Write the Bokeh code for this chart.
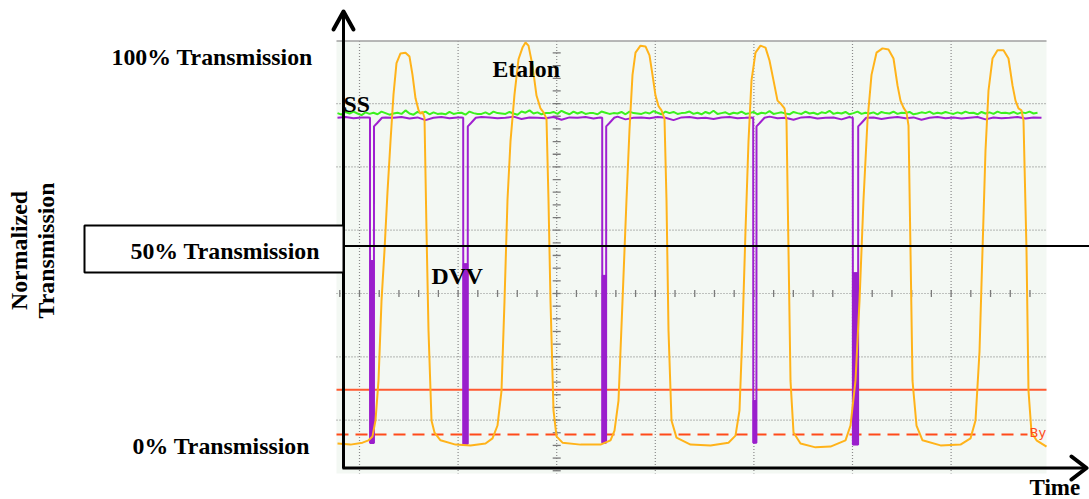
from math import pi
from bokeh.plotting import figure
from bokeh.models import Range1d, Label
from bokeh.embed import file_html
from bokeh.resources import INLINE

# ---------------- data (time in sample units, transmission in %) ----------------
# Etalon transmission trace (orange): (time, transmission %)
ETALON = [
    (0, -0.5), (13, -0.8), (25, -0.3), (31, 0.3), (35, 1.3), (38, 5.4), (41, 15.6), (44, 36),
    (47, 49), (50, 64), (53, 77), (56, 89), (59, 97), (63, 99.5), (68, 99.7), (72, 98.7),
    (75, 94), (78, 88), (81, 85), (83, 84), (85, 84.6), (87, 83), (89, 54), (91, 28.5),
    (94, 5.4), (97, 2.3), (103, 0.3), (118, -0.8), (133, -1), (148, -0.5), (155, 0.8),
    (160, 4.1), (164, 13), (167, 36), (170, 62), (173, 77), (177, 89), (181, 98), (185, 101),
    (188, 102.3), (191, 101.5), (195, 96.4), (199, 88.7), (203, 85.4), (206, 84.4),
    (209, 82.8), (211, 61.8), (213, 36), (216, 8), (219, 1.3), (225, -0.3), (243, -0.8),
    (263, -0.8), (273, 0.3), (277, 2.8), (281, 10.5), (285, 36), (289, 62), (292, 80),
    (295, 94), (298, 99.7), (303, 101.5), (308, 101.3), (312, 99), (315, 94), (318, 88.7),
    (321, 86), (324, 84.9), (327, 82.8), (329, 61.8), (331, 28.5), (334, 5.4), (339, 1),
    (353, -0.8), (373, -1), (391, -0.3), (398, 1.5), (402, 8), (405, 28.5), (408, 54),
    (411, 77), (414, 92.6), (418, 99.7), (423, 101.5), (428, 101), (432, 97.7), (436, 92.6),
    (440, 87.4), (444, 86.4), (447, 85.4), (449, 82.3), (451, 49), (453, 15.6), (456, 2.3),
    (463, -0.5), (478, -1.5), (493, -1.3), (508, 0.3), (513, 4.1), (518, 15.6), (522, 36),
    (526, 62), (530, 82.3), (534, 94), (539, 99.7), (545, 100.8), (551, 100.5), (556, 98.2),
    (560, 91.3), (563, 87.4), (566, 85.6), (569, 84.4), (571, 81), (573, 49), (575, 15.6),
    (579, 4.1), (585, 0.3), (603, -1), (623, -0.8), (633, 0.8), (638, 5.4), (642, 23),
    (645, 49), (648, 74.6), (651, 90), (655, 98.2), (660, 100.3), (666, 100.3), (671, 98.2),
    (675, 91.3), (678, 87.4), (681, 85.4), (684, 84.9), (686, 82.3), (689, 49), (691, 13),
    (694, 2.3), (699, 0.3), (709, -1.3),
]
ETALON_T = [a for a, _ in ETALON]
ETALON_Y = [b for _, b in ETALON]

# SS trace (green), one sample every 4 time units
SS_STEP = 4
SS_Y = [84.2, 83.8, 84.5, 84.1, 84.6, 84.1, 83.7, 84.4, 84.0, 84.3, 83.9, 84.6, 84.2, 83.8,
        84.1, 84.3, 84.0, 84.9, 84.1, 83.8, 84.5, 84.2, 84.6, 83.9, 84.4, 84.0, 84.1, 83.9,
        84.5, 84.0, 84.2, 84.3, 83.8, 84.6, 84.2, 84.0, 84.0, 84.4, 83.9, 84.6, 84.2, 84.1,
        84.0, 84.5, 84.1, 83.8, 84.6, 84.3, 84.9, 84.1, 84.4, 83.9, 84.2, 84.2, 84.5, 84.0,
        84.8, 84.3, 83.9, 84.6, 84.1, 84.5, 84.0, 84.2, 84.2, 83.9, 84.6, 84.3, 84.0, 84.2,
        84.1, 84.5, 83.9, 84.6, 84.2, 84.1, 84.0, 84.4, 84.1, 84.7, 84.3, 83.9, 84.6, 84.2,
        84.5, 84.0, 84.2, 84.3, 84.6, 84.0, 84.3, 83.9, 84.5, 84.1, 84.8, 84.0, 84.2, 84.4,
        83.9, 84.3, 84.1, 84.6, 84.0, 84.2, 84.5, 83.9, 84.3, 84.1, 84.7, 84.0, 84.2, 84.4,
        84.1, 83.9, 84.5, 84.2, 84.0, 84.6, 84.1, 84.3, 83.9, 84.4, 84.2, 84.8, 84.0, 84.3,
        84.1, 84.5, 83.9, 84.2, 84.6, 84.0, 84.3, 84.1, 84.4, 83.9, 84.5, 84.2, 84.1, 84.6,
        84.0, 84.3, 84.2, 84.5, 83.9, 84.1, 84.4, 84.2, 84.6, 84.0, 84.3, 84.1, 84.5, 84.2,
        84.0, 84.4, 84.1, 84.6, 84.2, 84.3, 83.9, 84.5, 84.1, 84.4, 84.0, 84.6, 84.2, 84.3,
        84.1, 84.5, 84.0, 84.4, 84.2, 84.6, 84.1, 84.3]
SS_T = [i * SS_STEP for i in range(len(SS_Y)) if i * SS_STEP <= 709]
SS_Y = SS_Y[:len(SS_T)]

# DVV trace (purple): baseline every 8 time units, plus its dips
DVV_STEP = 8
DVV_BASE = [83.0, 83.2, 82.9, 83.1, 83.3, 82.5, 83.1, 83.0, 83.2, 82.8,
            83.1, 82.4, 83.0, 83.2, 82.9, 83.1, 83.0, 82.6, 83.2, 83.1,
            82.9, 83.0, 83.3, 82.7, 83.1, 83.0, 82.9, 83.2, 82.5, 83.1,
            83.0, 83.2, 82.8, 83.1, 82.9, 83.3, 82.6, 83.0, 83.1, 82.9,
            83.2, 83.0, 82.4, 83.1, 83.2, 82.9, 83.0, 82.7, 83.1, 83.2,
            82.9, 83.0, 82.6, 83.1, 83.3, 82.9, 83.0, 82.5, 83.1, 83.2,
            82.8, 83.0, 83.1, 82.6, 83.2, 83.0, 82.9, 83.1, 82.7, 83.0,
            83.2, 82.9, 83.1, 82.5, 83.0, 83.2, 82.9, 83.1, 82.8, 83.0,
            83.2, 82.6, 83.1, 82.9, 83.0, 83.2, 82.8, 83.1, 83.0]
DIP_DOWN = [32.5, 125.7, 264.7, 415.7, 515.3]
DIP_UP = [36.5, 130.3, 268.7, 419.0, 520.7]
DIP_BOTTOM = [-0.4, -0.6, -0.3, -0.3, -0.8]
DIP_SOLID_TOP = [46.4, 45.6, 42.6, 10.5, 43.3]

# scope cursor levels (red)
CURSOR_SOLID = 13.3
CURSOR_DASHED = 1.8

# ---------------- layout helpers (reference-image pixels -> data) ----------------
W, H = 1089, 499
X0, Y0, KY = 337.0, 441.0, 3.9


def dx(px):
    return px - X0


def dy(py):
    return (Y0 - py) / KY


SERIF = "Liberation Serif"
FS = "23.8px"

p = figure(width=W, height=H, x_range=Range1d(dx(0), dx(W)), y_range=Range1d(dy(H), dy(0)),
           output_backend="svg", toolbar_location=None, x_axis_location=None,
           y_axis_location=None, min_border=0, outline_line_color=None,
           background_fill_color="white", border_fill_color="white")
p.grid.visible = False

# scope screen
SCR_L, SCR_R, SCR_T, SCR_B = 336, 1046, 40.5, 473
p.quad(left=dx(SCR_L), right=dx(SCR_R), bottom=dy(SCR_B), top=dy(SCR_T),
       fill_color="#f3f8f3", line_color=None)

GX0, DIVX, GY0, DIVY = 359.0, 98.6, 293.0, 63.3
gx = [GX0 + k * DIVX for k in range(7)]
p.segment(x0=[dx(v) for v in gx], x1=[dx(v) for v in gx], y0=[dy(SCR_T)] * 7, y1=[dy(SCR_B)] * 7,
          line_color="#8a8a8a", line_width=1.2, line_dash="1 2")
gy = [GY0 + j * DIVY for j in range(-3, 3)]
p.segment(x0=[dx(SCR_L)] * 6, x1=[dx(SCR_R)] * 6, y0=[dy(v) for v in gy], y1=[dy(v) for v in gy],
          line_color="#8a8a8a", line_width=1.2, line_dash="1 2")
p.segment(x0=[dx(SCR_L)], x1=[dx(SCR_R)], y0=[dy(SCR_T)], y1=[dy(SCR_T)],
          line_color="#a0a0a0", line_width=1.5)

# center-axis minor ticks
tx = [GX0 + k * DIVX / 5 for k in range(-1, 35) if GX0 + k * DIVX / 5 < SCR_R]
p.segment(x0=[dx(v) for v in tx], x1=[dx(v) for v in tx], y0=[dy(GY0 - 3.5)] * len(tx),
          y1=[dy(GY0 + 3.5)] * len(tx), line_color="#7a7a7a", line_width=1.3)
cx = GX0 + 2 * DIVX
ty = [GY0 + k * DIVY / 5 for k in range(-19, 15)]
p.segment(x0=[dx(cx - 4)] * len(ty), x1=[dx(cx + 4)] * len(ty), y0=[dy(v) for v in ty],
          y1=[dy(v) for v in ty], line_color="#7a7a7a", line_width=1.3)

# red cursors
p.segment(x0=[dx(SCR_L)], x1=[dx(SCR_R)], y0=[CURSOR_SOLID], y1=[CURSOR_SOLID],
          line_color="#ff5a30", line_width=2)
p.segment(x0=[dx(SCR_L)], x1=[dx(1027)], y0=[CURSOR_DASHED], y1=[CURSOR_DASHED],
          line_color="#ff4a1a", line_width=2, line_dash="12 7")
p.add_layout(Label(x=dx(1029), y=dy(432), text="By", text_color="#ff4a1a",
                   text_font="DejaVu Sans", text_font_size="13px", text_baseline="middle"))

# DVV trace with dips
pts = []
base_t = [i * DVV_STEP for i in range(len(DVV_BASE))]
for t, v in zip(base_t, DVV_BASE):
    if any(d - 3 < t < u + 10 for d, u in zip(DIP_DOWN, DIP_UP)):
        continue
    pts.append((t, v))
for d, u, b in zip(DIP_DOWN, DIP_UP, DIP_BOTTOM):
    pts += [(d - 2, 83.1), (d, 83.0), (d + 0.1, b), (u - 0.1, b), (u, 80.8), (u + 3, 81.6),
            (u + 8, 83.0)]
pts.sort()
p.line([a for a, _ in pts], [b for _, b in pts], line_color="#a020d0", line_width=2)
p.quad(left=DIP_DOWN, right=DIP_UP, bottom=DIP_BOTTOM, top=DIP_SOLID_TOP,
       fill_color="#9a1fcc", line_color="#9a1fcc", line_width=1)

# SS trace
p.line(SS_T, SS_Y, line_color="#3cf01e", line_width=2)

# Etalon trace
p.line(ETALON_T, ETALON_Y, line_color="#ffb31a", line_width=2)

# ---------------- black overlays ----------------
p.line([dx(343), dx(343)], [dy(468), dy(12)], line_color="black", line_width=3)
p.line([dx(333), dx(343), dx(353)], [dy(29), dy(11), dy(29)], line_color="black",
       line_width=4, line_join="round", line_cap="round")
p.line([dx(342), dx(1085)], [dy(467.5), dy(467.5)], line_color="black", line_width=3)
p.line([dx(1071), dx(1086), dx(1071)], [dy(456), dy(467.5), dy(479)], line_color="black",
       line_width=4, line_join="round", line_cap="round")

p.quad(left=dx(84), right=dx(343), bottom=dy(272), top=dy(225), fill_color="white",
       line_color="black", line_width=2)
p.line([dx(343), dx(1089)], [dy(245.5), dy(245.5)], line_color="black", line_width=2)


def lab(px, py, text, angle=0.0, align="left", size=FS):
    # (px, py): left/centre of the text, vertical middle of the glyphs in the reference
    p.add_layout(Label(x=dx(px), y=dy(py), text=text, text_font=SERIF, text_font_size=size,
                       text_font_style="bold", text_color="black", text_align=align,
                       text_baseline="middle", angle=angle))


lab(111, 56, "100% Transmission")
lab(130, 250, "50% Transmission")
lab(132, 445, "0% Transmission")
lab(492, 68, "Etalon")
lab(343, 103, "SS")
lab(431, 275, "DVV")
lab(1029, 486.5, "Time", size="23px")
lab(18, 250, "Normalized", angle=pi / 2, align="center")
lab(45, 250, "Transmission", angle=pi / 2, align="center")

open("out.html", "w").write(file_html(p, INLINE))
